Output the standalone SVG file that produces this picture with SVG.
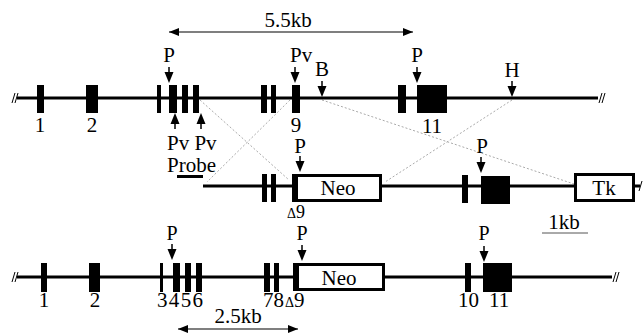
<svg xmlns="http://www.w3.org/2000/svg" xmlns:xlink="http://www.w3.org/1999/xlink" width="644" height="335" viewBox="0 0 644 335">
<style>
.t{font-family:"Liberation Serif","Times New Roman",serif;font-size:21px;fill:#000}
.s{font-size:20px}
.d{font-size:14px}
.ln{stroke:#000;stroke-width:3;fill:none}
.ex{fill:#000}
.box{fill:#fff;stroke:#000;stroke-width:3}
.gr{stroke:#aaa;stroke-width:1;stroke-dasharray:2 2;fill:none}
.brk{stroke:#000;stroke-width:1;fill:none}
.dim{stroke:#000;stroke-width:1.2;fill:none}
</style>
<defs>
<g id="dn"><line x1="0" y1="-16" x2="0" y2="-9" stroke="#000" stroke-width="1.5"/><path d="M-4.5,-11 L4.5,-11 L0,0 Z" fill="#000"/></g>
<g id="up"><line x1="0" y1="16" x2="0" y2="9" stroke="#000" stroke-width="1.5"/><path d="M-4.5,11 L4.5,11 L0,0 Z" fill="#000"/></g>
<marker id="ah" viewBox="0 0 10 10" refX="10" refY="5" markerWidth="10" markerHeight="10" markerUnits="userSpaceOnUse" orient="auto-start-reverse"><path d="M0,1 L10,5 L0,9 Z" fill="#000"/></marker>
</defs>

<g id="connectors">
<line class="gr" x1="200" y1="100" x2="289" y2="180"/>
<line class="gr" x1="290" y1="100" x2="207" y2="182"/>
<line class="gr" x1="322" y1="100" x2="574" y2="184"/>
<line class="gr" x1="512" y1="100" x2="385" y2="182"/>
</g>

<g id="scale55">
<line class="dim" x1="169" y1="32" x2="413" y2="32" marker-start="url(#ah)" marker-end="url(#ah)"/>
<text class="t" x="288" y="27" text-anchor="middle">5.5kb</text>
</g>

<g id="wildtype">
<line class="ln" x1="17" y1="98" x2="598" y2="98"/>
<path class="brk" d="M12,103 L15,93 M15,103 L18,93"/>
<path class="brk" d="M599,103 L602,93 M602,103 L605,93"/>
<rect class="ex" x="37" y="85" width="7" height="28"/>
<rect class="ex" x="86" y="85" width="12" height="28"/>
<rect class="ex" x="157" y="85" width="4" height="28"/>
<rect class="ex" x="169" y="85" width="8" height="28"/>
<rect class="ex" x="182" y="85" width="6" height="28"/>
<rect class="ex" x="193" y="85" width="6" height="28"/>
<rect class="ex" x="261" y="85" width="6" height="28"/>
<rect class="ex" x="271" y="85" width="5" height="28"/>
<rect class="ex" x="292" y="85" width="8" height="28"/>
<rect class="ex" x="398" y="85" width="8" height="28"/>
<rect class="ex" x="417" y="85" width="30" height="28"/>
<text class="t" x="40" y="132" text-anchor="middle">1</text>
<text class="t" x="92" y="132" text-anchor="middle">2</text>
<text class="t" x="296" y="132" text-anchor="middle">9</text>
<text class="t" x="432" y="133" text-anchor="middle">11</text>
<use xlink:href="#dn" x="169" y="83"/>
<text class="t" x="169" y="62" text-anchor="middle">P</text>
<use xlink:href="#dn" x="295" y="83"/>
<text class="t" x="290" y="62">Pv</text>
<use xlink:href="#dn" x="322" y="97"/>
<text class="t" x="322" y="76" text-anchor="middle">B</text>
<use xlink:href="#dn" x="417" y="83"/>
<text class="t" x="417" y="62" text-anchor="middle">P</text>
<use xlink:href="#dn" x="512" y="97"/>
<text class="t" x="512" y="77" text-anchor="middle">H</text>
<use xlink:href="#up" x="175" y="113"/>
<use xlink:href="#up" x="201" y="113"/>
<text class="t" x="167" y="150">Pv Pv</text>
<text class="t" x="167" y="172">Probe</text>
<rect class="ex" x="177" y="175" width="26" height="3"/>
</g>

<g id="vector">
<line class="ln" x1="203" y1="186" x2="640" y2="186"/>
<path class="brk" d="M639,191 L642,181"/>
<rect class="ex" x="262" y="174" width="5" height="28"/>
<rect class="ex" x="271" y="174" width="5" height="28"/>
<rect class="box" x="293.5" y="175.5" width="87" height="25"/>
<rect class="ex" x="292" y="174" width="6" height="28"/>
<text class="t" x="338" y="195" text-anchor="middle">Neo</text>
<use xlink:href="#dn" x="300" y="172"/>
<text class="t" x="300" y="153" text-anchor="middle">P</text>
<text class="t" x="287" y="218" style="font-size:18px"><tspan class="d">Δ</tspan>9</text>
<rect class="ex" x="462" y="175" width="6" height="28"/>
<rect class="ex" x="481" y="176" width="29" height="28"/>
<use xlink:href="#dn" x="481" y="173"/>
<text class="t" x="482" y="153" text-anchor="middle">P</text>
<rect class="box" x="575.5" y="174.5" width="58" height="26"/>
<text class="t" x="604" y="195" text-anchor="middle">Tk</text>
</g>

<g id="scale1kb">
<line x1="542" y1="233" x2="588" y2="233" stroke="#555" stroke-width="1"/>
<text class="t" x="564" y="229" text-anchor="middle">1kb</text>
</g>

<g id="targeted">
<line class="ln" x1="17" y1="277" x2="612" y2="277"/>
<path class="brk" d="M12,282 L15,272 M15,282 L18,272"/>
<path class="brk" d="M613,282 L616,272 M616,282 L619,272"/>
<rect class="ex" x="41" y="263" width="6" height="29"/>
<rect class="ex" x="89" y="263" width="11" height="29"/>
<rect class="ex" x="160" y="263" width="3" height="29"/>
<rect class="ex" x="173" y="263" width="7" height="29"/>
<rect class="ex" x="185" y="263" width="6" height="29"/>
<rect class="ex" x="196" y="263" width="6" height="29"/>
<rect class="ex" x="264" y="263" width="6" height="29"/>
<rect class="ex" x="274" y="263" width="5" height="29"/>
<rect class="box" x="294.5" y="264.5" width="89" height="25"/>
<rect class="ex" x="293" y="263" width="6" height="28"/>
<text class="t" x="339" y="285" text-anchor="middle">Neo</text>
<rect class="ex" x="465" y="263" width="6" height="29"/>
<rect class="ex" x="483" y="263" width="29" height="29"/>
<text class="t" x="44" y="307" text-anchor="middle">1</text>
<text class="t" x="95" y="307" text-anchor="middle">2</text>
<text class="t" x="157" y="307" textLength="46">3456</text>
<text class="t" x="263" y="307">78</text>
<text class="t" x="285" y="307"><tspan class="d">Δ</tspan>9</text>
<text class="t" x="458" y="307">10</text>
<text class="t" x="489" y="307">11</text>
<use xlink:href="#dn" x="172" y="260"/>
<text class="t s" x="172" y="240" text-anchor="middle">P</text>
<use xlink:href="#dn" x="302" y="261"/>
<text class="t s" x="302" y="240" text-anchor="middle">P</text>
<use xlink:href="#dn" x="484" y="262"/>
<text class="t s" x="484" y="240" text-anchor="middle">P</text>
</g>

<g id="scale25">
<line class="dim" x1="178" y1="329" x2="298" y2="329" marker-start="url(#ah)" marker-end="url(#ah)"/>
<text class="t" x="238" y="323" text-anchor="middle">2.5kb</text>
</g>
</svg>
